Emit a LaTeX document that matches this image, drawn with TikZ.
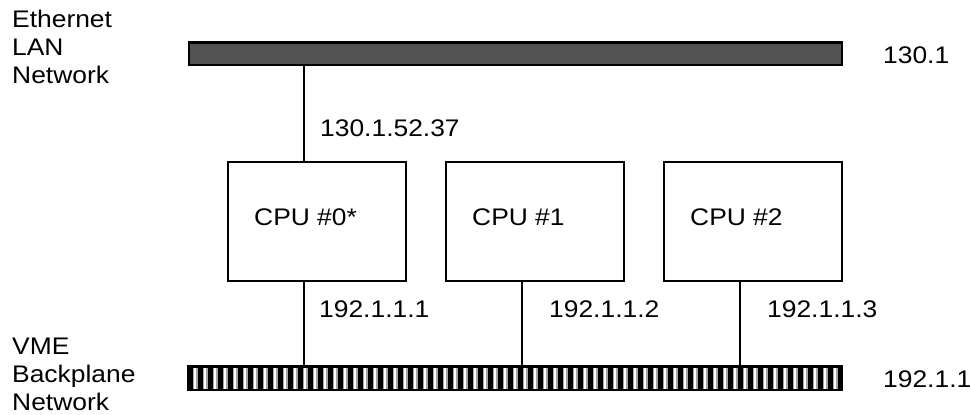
\documentclass[tikz,border=0pt]{standalone}
\usepackage{fontspec}
\setmainfont[FakeStretch=1.1]{Liberation Sans}
\begin{document}
\begin{tikzpicture}[x=1pt,y=-1pt,
  lbl/.style={inner sep=0pt, anchor=base west, font=\fontsize{24}{27.7}\selectfont},
  netlbl/.style={lbl, align=left},
  cpubox/.style={draw=black, line width=2pt, minimum width=178pt, minimum height=119pt, inner sep=0pt},
  wire/.style={draw=black, line width=2pt},
  lanbar/.style={draw=black, line width=2.5pt, fill=lanfill, minimum width=653pt, minimum height=22.5pt, inner sep=0pt},
  vmebar/.style={draw=black, line width=2.5pt, fill=black, minimum width=654pt, minimum height=23.5pt, inner sep=0pt}]
\definecolor{lanfill}{HTML}{525252}
\useasboundingbox (0,0) rectangle (970,415);

% network labels on the left (anchored at the baseline of their last line)
\node[netlbl] (lanname) at (12,83) {Ethernet\\LAN\\Network};
\node[netlbl] (vmename) at (12,410) {VME\\Backplane\\Network};

% Ethernet LAN bar
\node[lanbar] (lan) at (515.5,53.5) {};
\node[lbl] (lannet) at (883,63) {130.1};

% VME backplane bar with its striped pattern
\node[vmebar] (vme) at (515,378) {};
\foreach \i in {0,...,64}{
  \fill[gray!70] ({192.5+10*\i},367.5) rectangle ++(5,21);
  \fill[white] ({193.75+10*\i},367.5) rectangle ++(2.5,21);
}
\node[lbl] (vmenet) at (883,387) {192.1.1};

% CPU boards
\node[cpubox] (cpu0) at (317,221.5) {};
\node[cpubox] (cpu1) at (535,221.5) {};
\node[cpubox] (cpu2) at (753,221.5) {};
\node[lbl] (cpu0name) at (254,225) {CPU \#0*};
\node[lbl] (cpu1name) at (472,225) {CPU \#1};
\node[lbl] (cpu2name) at (690,225) {CPU \#2};

% tap points of the cables
\coordinate (tap0) at (304,0);
\coordinate (tap1) at (522,0);
\coordinate (tap2) at (740,0);

% cables
\draw[wire] (lan.south -| tap0) -- (cpu0.north -| tap0);
\draw[wire] (cpu0.south -| tap0) -- (vme.north -| tap0);
\draw[wire] (cpu1.south -| tap1) -- (vme.north -| tap1);
\draw[wire] (cpu2.south -| tap2) -- (vme.north -| tap2);

% addresses
\node[lbl] (addr0lan) at (320,136) {130.1.52.37};
\node[lbl] (addr0) at (319,317) {192.1.1.1};
\node[lbl] (addr1) at (549,317) {192.1.1.2};
\node[lbl] (addr2) at (767,317) {192.1.1.3};
\end{tikzpicture}
\end{document}
